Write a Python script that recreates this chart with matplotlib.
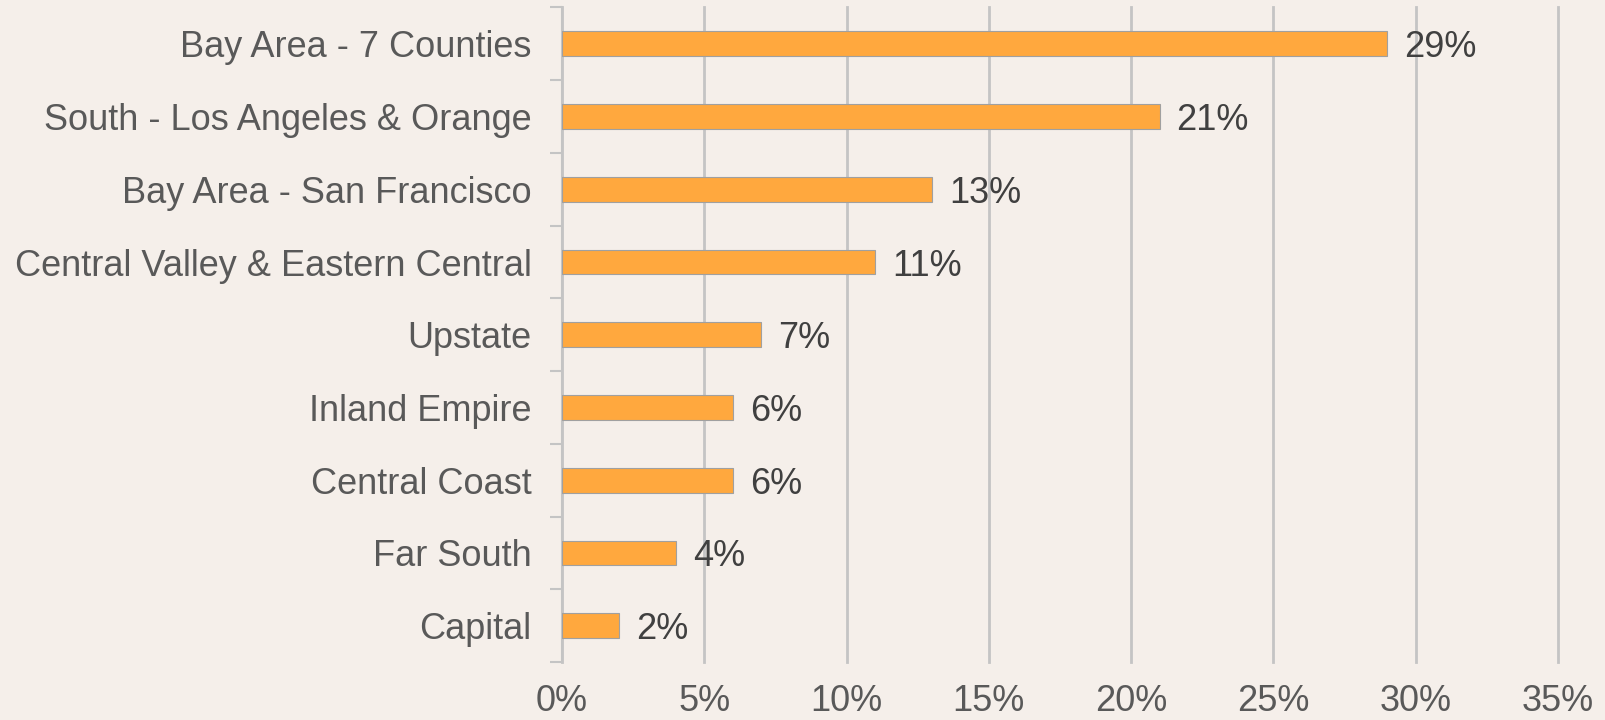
import numpy as np
import matplotlib.pyplot as plt
from matplotlib.ticker import FuncFormatter, FixedLocator

plt.rcParams['font.family'] = ['Liberation Sans', 'DejaVu Sans']

# Data
regions = ['Bay Area - 7 Counties', 'South - Los Angeles & Orange', 'Bay Area - San Francisco',
           'Central Valley & Eastern Central', 'Upstate', 'Inland Empire', 'Central Coast',
           'Far South', 'Capital']
shares = [29, 21, 13, 11, 7, 6, 6, 4, 2]
x_ticks = [0, 5, 10, 15, 20, 25, 30, 35]

bg = '#F5EFEA'
fig = plt.figure(figsize=(16.06, 7.2), dpi=100, facecolor=bg)
ax = fig.add_axes([0.35, 0.0806, 0.62, 0.909])
ax.set_facecolor(bg)

y = np.arange(len(regions))
ax.barh(y, shares, height=0.34, color='#FFA83E', edgecolor='#A0A0A0', linewidth=0.8, zorder=3)

for yi, v in zip(y, shares):
    ax.text(v + 0.6, yi, f'{v}%', va='center_baseline', ha='left', fontsize=26, color='#404040', zorder=4)

ax.set_xlim(0, 35)
ax.set_ylim(len(regions) - 0.5, -0.5)
ax.set_xticks(x_ticks)
ax.xaxis.set_major_formatter(FuncFormatter(lambda v, p: f'{int(v)}%'))
ax.tick_params(axis='x', length=0, labelsize=26, labelcolor='#595959', pad=16)
ax.grid(axis='x', color='#C4C4C4', linewidth=2, zorder=1)
for gl in ax.get_xgridlines():
    gl.set_clip_on(False)

ax.set_yticks(y)
ax.set_yticklabels(regions)
ax.yaxis.set_minor_locator(FixedLocator(np.arange(-0.5, len(regions), 1)))
ax.tick_params(axis='y', which='major', length=0, labelsize=26, labelcolor='#595959', pad=22)
ax.tick_params(axis='y', which='minor', length=9, width=1.5, color='#C4C4C4')

for s in ['top', 'right', 'bottom']:
    ax.spines[s].set_visible(False)
ax.spines['left'].set_color('#C4C4C4')
ax.spines['left'].set_linewidth(1.5)

fig.savefig('out.png', dpi=100, facecolor=bg)
